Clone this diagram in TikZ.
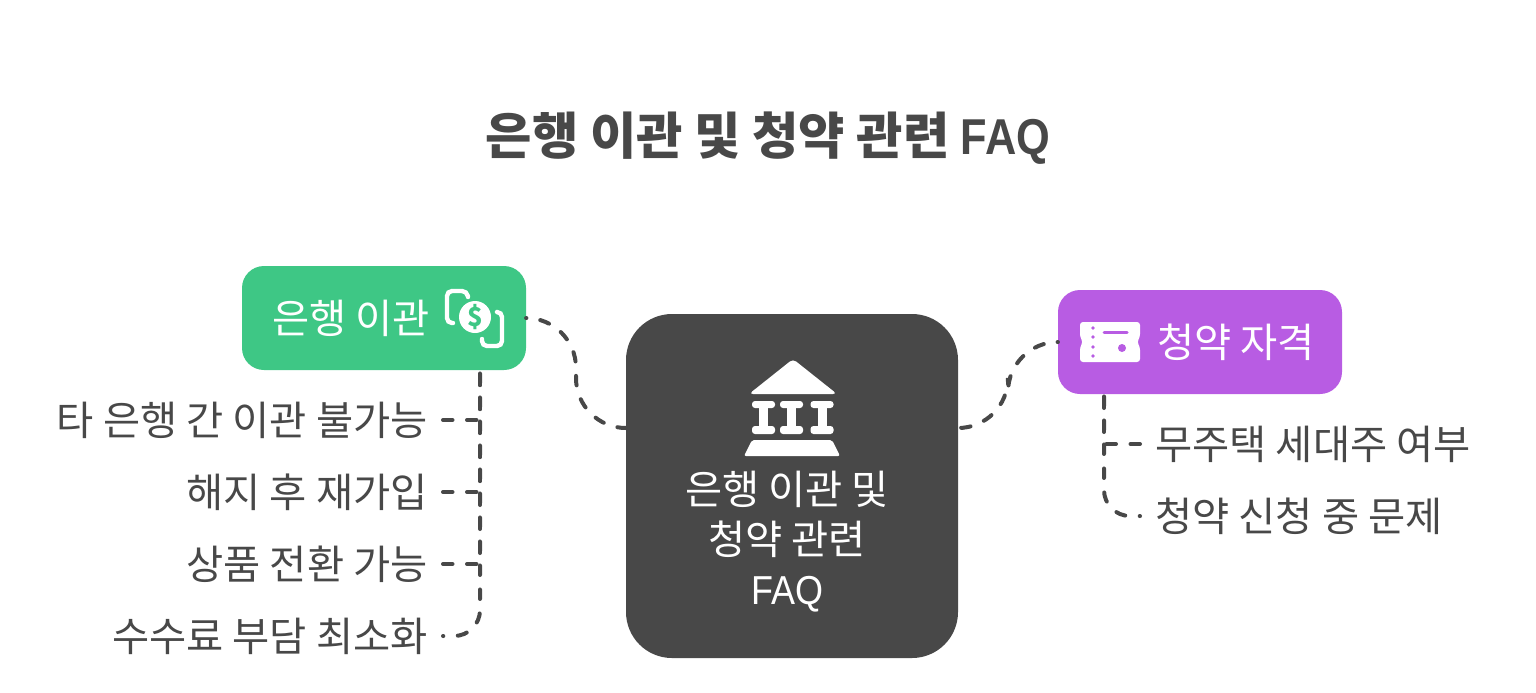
\documentclass[tikz,border=0pt]{standalone}
\usepackage{fontspec}
\setmainfont{Noto Sans CJK KR}
\newfontfamily\latinfont{Liberation Sans}
\usetikzlibrary{positioning}
\definecolor{inkgray}{HTML}{484848}
\definecolor{bankgreen}{HTML}{3EC785}
\definecolor{subspurple}{HTML}{B85CE3}
\tikzset{
  topic/.style={minimum width=142pt, minimum height=52pt, inner sep=0pt, rounded corners=11pt},
  topictext/.style={text=white, font=\fontsize{20.2}{24}\selectfont, inner sep=0pt},
  leaf/.style={text=inkgray, font=\fontsize{20.2}{24}\selectfont, inner ysep=0pt, inner xsep=7.5pt},
  link/.style={draw=inkgray, line width=2pt, line cap=round, dash pattern=on 4.75pt off 7.25pt},
  dotstart/.style={dash phase=4.6pt}
}

\begin{document}
\begin{tikzpicture}[x=0.5pt, y=-0.5pt]
  \useasboundingbox (0,0) rectangle (1536,692);

  \node[text=inkgray, font=\fontsize{25.2}{28}\selectfont\bfseries] (title) at (768,138) {은행 이관 및 청약 관련 \scalebox{0.86}[1]{\latinfont\bfseries FAQ}};

  \node[topic, fill=inkgray, minimum width=166pt, minimum height=172pt, rounded corners=23pt] (center) at (792,486) {};
  \node[topic, fill=bankgreen] (transfer) at (384,318) {};
  \node[topic, fill=subspurple] (subs) at (1200,342) {};

  \node[topictext, anchor=west] (transfertext) at (272,318) {은행 이관};
  \node[topictext, anchor=west] (substext) at (1157,342) {청약 자격};
  \node[topictext, align=center, font=\fontsize{20.2}{25}\selectfont] (centertext) at (787,542) {은행 이관 및\\청약 관련\\\scalebox{0.89}[1]{\latinfont FAQ}};

  \node[leaf, anchor=east] (leafa) at (443,420) {타 은행 간 이관 불가능};
  \node[leaf, below=36pt of leafa.east, anchor=east] (leafb) {해지 후 재가입};
  \node[leaf, below=36pt of leafb.east, anchor=east] (leafc) {상품 전환 가능};
  \node[leaf, below=36pt of leafc.east, anchor=east] (leafd) {수수료 부담 최소화};
  \node[leaf, anchor=west] (leafe) at (1140,444) {무주택 세대주 여부};
  \node[leaf, below=36pt of leafe.west, anchor=west] (leaff) {청약 신청 중 문제};

  \coordinate (transferdrop) at (480,370);
  \coordinate (subsdrop) at (1104,394);
  \coordinate (centerleft) at (626,428);
  \coordinate (centerright) at (958,428);

  \draw[link] (leafa.east) -| (transferdrop);
  \draw[link] (leafb.east) -| (transferdrop);
  \draw[link] (leafc.east) -| (transferdrop);
  \draw[link, dotstart, rounded corners=13pt] (leafd.east) -| (transferdrop);
  \draw[link] (leafe.west) -| (subsdrop);
  \draw[link, dotstart, rounded corners=13pt] (leaff.west) -| (subsdrop);
  \draw[link, dotstart, rounded corners=25pt] (transfer.east) -| (576,428) -- (centerleft);
  \draw[link, dotstart, rounded corners=25pt] (subs.west) -| (1008,428) -- (centerright);

  % bank icon
  \fill[white, rounded corners=2pt] (793,359) -- (837,394) -- (749,394) -- cycle;
  \foreach \cx in {763.5,791.5,822} {
    \fill[white, rounded corners=1.5pt] (\cx-11.5,401) rectangle (\cx+11.5,408);
    \fill[white] (\cx-4.5,405) rectangle (\cx+4.5,430);
    \fill[white, rounded corners=1.5pt] (\cx-11.5,426) rectangle (\cx+11.5,434);
  }
  \fill[white, rounded corners=1pt] (752,440) -- (832,440) -- (840,456) -- (744,456) -- cycle;

  % money icon
  \draw[white, line width=2.2pt, line cap=round, rounded corners=2.5pt] (468,297) -- (467,291) -- (447,291) -- (447,323) -- (453,323);
  \draw[white, line width=2.2pt, line cap=round, rounded corners=2.5pt] (497,312) -- (502,312) -- (502,346) -- (482,346) -- (482,339);
  \fill[white] (475,317) circle (16);
  \node[text=bankgreen, font=\fontsize{13}{15}\selectfont\bfseries, inner sep=0pt] (moneysign) at (475,317) {\$};

  % ticket icon
  \fill[white, rounded corners=1.5pt] (1080,322) -- (1140,322) -- (1140,337) -- (1137,342) -- (1140,347) -- (1140,362) -- (1080,362) -- (1080,347) -- (1083,342) -- (1080,337) -- cycle;
  \foreach \dy in {328,337,347,356} \fill[subspurple] (1093,\dy) circle (1.8);
  \draw[subspurple, line width=1.5pt, line cap=round] (1104,332) -- (1127,332);
  \fill[subspurple] (1122,348) circle (4);
\end{tikzpicture}
\end{document}
